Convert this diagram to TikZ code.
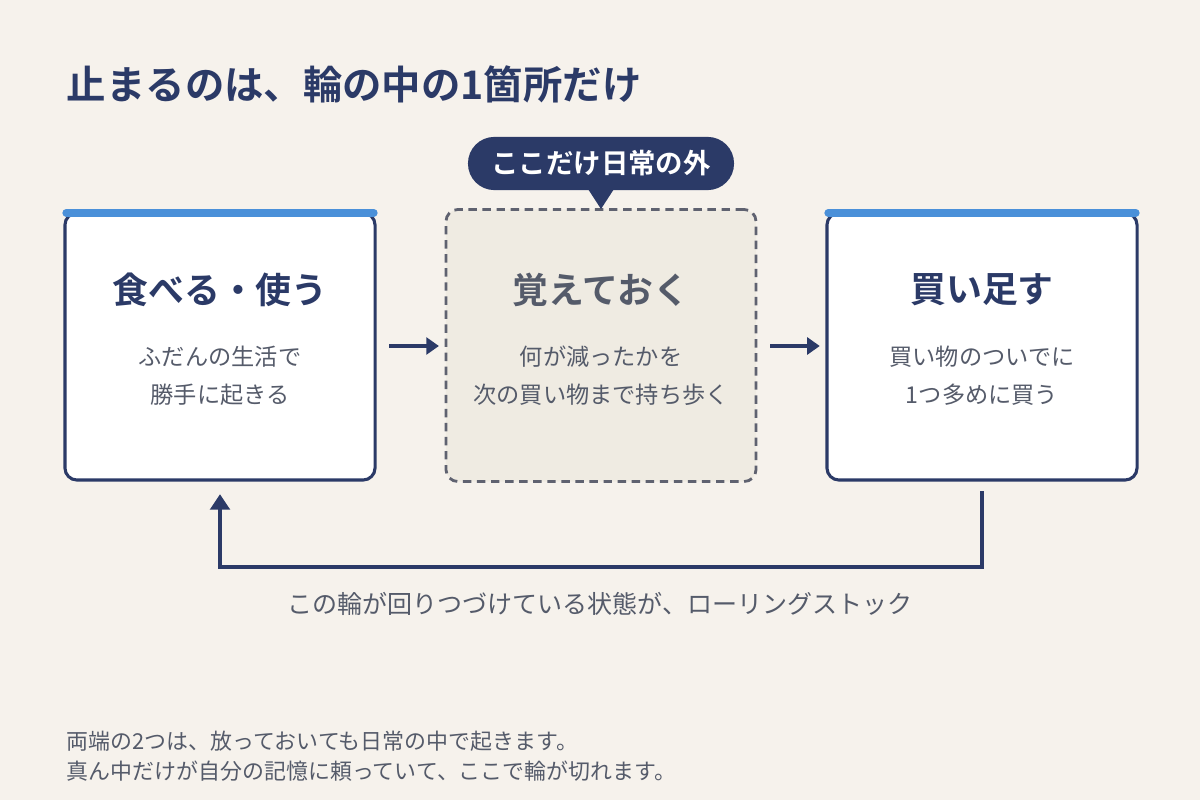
\documentclass[tikz,border=0pt]{standalone}
\usepackage{fontspec}
\setmainfont{Noto Sans CJK JP}[BoldFont={Noto Sans CJK JP Bold}]
\usepackage{tikz}
\usetikzlibrary{shapes,arrows.meta,positioning}
\definecolor{navy}{HTML}{2B3A67}
\definecolor{bgcol}{HTML}{F6F2EC}
\definecolor{barblue}{HTML}{4A90D9}
\definecolor{txtgray}{HTML}{555B6A}
\definecolor{memfill}{HTML}{EFEBE2}
\definecolor{dashgray}{HTML}{5F6270}
\begin{document}
\begin{tikzpicture}[
    x=0.025cm, y=-0.025cm,
    box/.style={rectangle, rounded corners=0.3cm, draw=navy, line width=2.2pt, fill=white, minimum width=7.75cm, minimum height=6.675cm},
    membox/.style={rectangle, rounded corners=0.3cm, draw=dashgray, line width=2pt, dash pattern=on 6pt off 4pt, fill=memfill, minimum width=7.75cm, minimum height=6.8cm},
    head/.style={font=\bfseries\fontsize{25.5}{30}\selectfont, text=navy},
    sub/.style={font=\fontsize{16.5}{27}\selectfont, text=txtgray, align=center},
    bar/.style={barblue, line width=5.5pt, line cap=round},
    arrow/.style={-{Triangle[length=9pt,width=12pt]}, navy, line width=2.4pt}
]
    \fill[bgcol] (0,0) rectangle (1200,800);
    \node[anchor=west, font=\bfseries\fontsize{28}{32}\selectfont, text=navy] (title) at (62,84) {止まるのは、輪の中の1箇所だけ};

    % three stages
    \node[box] (use) at (220,346.5) {};
    \node[membox] (memo) at (601,345.5) {};
    \node[box] (buy) at (982,346.5) {};
    \draw[bar] ([xshift=2pt,yshift=-1pt]use.north west) -- ([xshift=-2pt,yshift=-1pt]use.north east);
    \draw[bar] ([xshift=2pt,yshift=-1pt]buy.north west) -- ([xshift=-2pt,yshift=-1pt]buy.north east);

    \node[head] (usehead) at (220,290) {食べる・使う};
    \node[head, text=txtgray] (memohead) at (601,290) {覚えておく};
    \node[head] (buyhead) at (982,290) {買い足す};
    \node[sub] (usesub) at (220,376) {ふだんの生活で\\勝手に起きる};
    \node[sub] (memosub) at (601,376) {何が減ったかを\\次の買い物まで持ち歩く};
    \node[sub] (buysub) at (982,376) {買い物のついでに\\1つ多めに買う};

    % callout
    \node[rectangle, rounded corners=0.66cm, fill=navy, minimum width=6.65cm, minimum height=1.33cm, text=white, font=\bfseries\fontsize{19.5}{22}\selectfont] (outside) at (601,163.5) {ここだけ日常の外};
    \fill[navy] (588,189) -- (614,189) -- (601,209) -- cycle;

    % flow
    \draw[arrow] ([xshift=9pt]use.east |- 0,346) -- ([xshift=-4pt]memo.west |- 0,346);
    \draw[arrow] ([xshift=9pt]memo.east |- 0,346) -- ([xshift=-4pt]buy.west |- 0,346);
    \coordinate (loop) at (600,567);
    \draw[arrow, -{Triangle[length=11pt,width=14pt]}] ([yshift=-7pt]buy.south) |- (loop) -| ([yshift=-9pt]use.south);

    \node[font=\fontsize{17.8}{21}\selectfont, text=txtgray] (caption) at (600,604) {この輪が回りつづけている状態が、ローリングストック};
    \node[anchor=north west, font=\fontsize{15.6}{21.5}\selectfont, text=txtgray, align=left] (note) at (62,726) {両端の2つは、放っておいても日常の中で起きます。\\真ん中だけが自分の記憶に頼っていて、ここで輪が切れます。};
\end{tikzpicture}
\end{document}
